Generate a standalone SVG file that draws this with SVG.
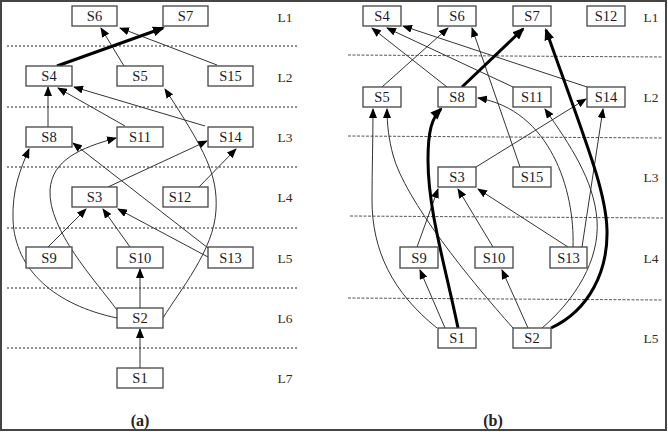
<svg xmlns="http://www.w3.org/2000/svg" width="668" height="432" viewBox="0 0 668 432">
<style>
.box{fill:#fff;stroke:#444;stroke-width:1.3}
.t{font-family:"Liberation Serif",serif;font-size:14.5px;fill:#1a1a2a;text-anchor:middle;dominant-baseline:central}
.l{font-family:"Liberation Serif",serif;font-size:13.5px;fill:#3a2a10;text-anchor:middle;dominant-baseline:central}
.cap{font-family:"Liberation Serif",serif;font-size:16px;font-weight:bold;fill:#222;text-anchor:middle;dominant-baseline:central}
.e{fill:none;stroke:#333;stroke-width:1;marker-end:url(#ah)}
.k{fill:none;stroke:#000;stroke-width:3;marker-end:url(#ahk)}
.da{stroke:#222;stroke-width:1;stroke-dasharray:2,2}
.db{stroke:#555;stroke-width:1;stroke-dasharray:3,1.5}
</style>
<defs>
<marker id="ah" markerUnits="userSpaceOnUse" markerWidth="10" markerHeight="8" refX="9" refY="4" orient="auto"><path d="M0,0 L10,4 L0,8 z" fill="#000"/></marker>
<marker id="ahk" markerUnits="userSpaceOnUse" markerWidth="12" markerHeight="10" refX="10" refY="5" orient="auto"><path d="M0,0 L12,5 L0,10 z" fill="#000"/></marker>
</defs>
<rect x="1" y="1" width="665" height="429" fill="#fff" stroke="#444" stroke-width="2"/>
<g id="layers">
<line class="da" x1="7" y1="46" x2="299" y2="46"/>
<line class="da" x1="7" y1="107" x2="299" y2="107"/>
<line class="da" x1="7" y1="167" x2="299" y2="167"/>
<line class="da" x1="7" y1="228" x2="299" y2="228"/>
<line class="da" x1="7" y1="288" x2="299" y2="288"/>
<line class="da" x1="7" y1="348" x2="299" y2="348"/>
<line class="db" x1="348" y1="55" x2="663" y2="57"/>
<line class="db" x1="348" y1="136" x2="663" y2="138"/>
<line class="db" x1="350" y1="216" x2="663" y2="218"/>
<line class="db" x1="348" y1="298" x2="663" y2="300"/>
<text class="l" x="285" y="17">L1</text>
<text class="l" x="285" y="77">L2</text>
<text class="l" x="285" y="137">L3</text>
<text class="l" x="285" y="197">L4</text>
<text class="l" x="285" y="258">L5</text>
<text class="l" x="285" y="318">L6</text>
<text class="l" x="285" y="378">L7</text>
<text class="l" x="651" y="17">L1</text>
<text class="l" x="651" y="97">L2</text>
<text class="l" x="651" y="177">L3</text>
<text class="l" x="651" y="258">L4</text>
<text class="l" x="651" y="338">L5</text>
<text class="cap" x="140" y="420">(a)</text>
<text class="cap" x="493" y="420">(b)</text>
</g>
<g id="connectors">
<line class="e" x1="124" y1="66" x2="101" y2="28"/>
<line class="e" x1="217" y1="65" x2="120" y2="28"/>
<line class="k" x1="57" y1="66" x2="163" y2="28"/>
<line class="e" x1="48" y1="127" x2="48" y2="87"/>
<line class="e" x1="125" y1="126" x2="58" y2="88"/>
<line class="e" x1="205" y1="126" x2="74" y2="87"/>
<line class="e" x1="108" y1="187" x2="207" y2="141"/>
<line class="e" x1="198" y1="188" x2="236" y2="149"/>
<line class="e" x1="208" y1="248" x2="73" y2="143"/>
<line class="e" x1="48" y1="247" x2="86" y2="209"/>
<line class="e" x1="130" y1="247" x2="103" y2="209"/>
<line class="e" x1="208" y1="257" x2="118" y2="209"/>
<line class="e" x1="140" y1="308" x2="140" y2="269"/>
<line class="e" x1="140" y1="368" x2="140" y2="329"/>
<path class="e" d="M163,318 C180,290 214,250 216,210 C218,175 205,150 165,89"/>
<path class="e" d="M117,310 C95,280 48,230 50,190 C52,160 80,148 116,138"/>
<path class="e" d="M117,318 C55,305 15,270 13,220 C12,190 20,170 29,149"/>
<line class="e" x1="447" y1="87" x2="372" y2="28"/>
<line class="e" x1="513" y1="87" x2="387" y2="28"/>
<line class="e" x1="587" y1="87" x2="403" y2="26"/>
<line class="e" x1="382" y1="87" x2="448" y2="28"/>
<line class="e" x1="520" y1="167" x2="472" y2="28"/>
<line class="k" x1="462" y1="87" x2="523" y2="29"/>
<line class="e" x1="582" y1="247" x2="603" y2="109"/>
<line class="e" x1="476" y1="167" x2="586" y2="99"/>
<line class="e" x1="568" y1="247" x2="478" y2="189"/>
<line class="e" x1="493" y1="247" x2="458" y2="189"/>
<line class="e" x1="417" y1="247" x2="438" y2="189"/>
<line class="e" x1="445" y1="328" x2="420" y2="270"/>
<line class="e" x1="528" y1="328" x2="502" y2="270"/>
<path class="e" d="M437,328 C392,292 372,250 372,200 C372,170 373,140 373,109"/>
<path class="e" d="M513,328 C470,280 405,200 393,155 C389,140 387,125 387,109"/>
<path class="k" d="M458,328 C445,265 428,210 428,160 C428,130 432,118 441,109"/>
<path class="k" d="M551,328 C590,310 608,270 607,230 C606,190 585,140 546,30"/>
<path class="e" d="M542,328 C575,300 600,260 597,220 C594,180 570,145 545,109"/>
<path class="e" d="M573,247 C575,190 550,110 478,98"/>
</g>
<g id="S6a"><rect class="box" x="72" y="6" width="45" height="20"/><text class="t" x="94.5" y="16">S6</text></g>
<g id="S7a"><rect class="box" x="163" y="6" width="45" height="20"/><text class="t" x="185.5" y="16">S7</text></g>
<g id="S4a"><rect class="box" x="26" y="66" width="46" height="20"/><text class="t" x="49" y="76">S4</text></g>
<g id="S5a"><rect class="box" x="117" y="66" width="46" height="20"/><text class="t" x="140" y="76">S5</text></g>
<g id="S15a"><rect class="box" x="208" y="66" width="45" height="20"/><text class="t" x="230.5" y="76">S15</text></g>
<g id="S8a"><rect class="box" x="26" y="127" width="46" height="20"/><text class="t" x="49" y="137">S8</text></g>
<g id="S11a"><rect class="box" x="117" y="127" width="46" height="20"/><text class="t" x="140" y="137">S11</text></g>
<g id="S14a"><rect class="box" x="208" y="127" width="45" height="20"/><text class="t" x="230.5" y="137">S14</text></g>
<g id="S3a"><rect class="box" x="72" y="187" width="45" height="20"/><text class="t" x="94.5" y="197">S3</text></g>
<g id="S12a"><rect class="box" x="163" y="187" width="45" height="20"/><text class="t" x="180" y="197">S12</text></g>
<g id="S9a"><rect class="box" x="26" y="247" width="46" height="21"/><text class="t" x="49" y="258">S9</text></g>
<g id="S10a"><rect class="box" x="117" y="247" width="46" height="21"/><text class="t" x="140" y="258">S10</text></g>
<g id="S13a"><rect class="box" x="208" y="247" width="45" height="21"/><text class="t" x="230.5" y="258">S13</text></g>
<g id="S2a"><rect class="box" x="117" y="308" width="46" height="20"/><text class="t" x="140" y="318">S2</text></g>
<g id="S1a"><rect class="box" x="117" y="368" width="46" height="20"/><text class="t" x="140" y="378">S1</text></g>
<g id="S4b"><rect class="box" x="363" y="6" width="38" height="20"/><text class="t" x="382" y="16">S4</text></g>
<g id="S6b"><rect class="box" x="438" y="6" width="38" height="20"/><text class="t" x="457" y="16">S6</text></g>
<g id="S7b"><rect class="box" x="513" y="6" width="38" height="20"/><text class="t" x="532" y="16">S7</text></g>
<g id="S12b"><rect class="box" x="587" y="6" width="38" height="20"/><text class="t" x="606" y="16">S12</text></g>
<g id="S5b"><rect class="box" x="363" y="87" width="38" height="20"/><text class="t" x="382" y="97">S5</text></g>
<g id="S8b"><rect class="box" x="438" y="87" width="38" height="20"/><text class="t" x="457" y="97">S8</text></g>
<g id="S11b"><rect class="box" x="513" y="87" width="38" height="20"/><text class="t" x="532" y="97">S11</text></g>
<g id="S14b"><rect class="box" x="587" y="87" width="38" height="20"/><text class="t" x="606" y="97">S14</text></g>
<g id="S3b"><rect class="box" x="438" y="167" width="38" height="20"/><text class="t" x="457" y="177">S3</text></g>
<g id="S15b"><rect class="box" x="513" y="167" width="38" height="20"/><text class="t" x="532" y="177">S15</text></g>
<g id="S9b"><rect class="box" x="400" y="247" width="38" height="21"/><text class="t" x="419" y="258">S9</text></g>
<g id="S10b"><rect class="box" x="475" y="247" width="38" height="21"/><text class="t" x="494" y="258">S10</text></g>
<g id="S13b"><rect class="box" x="550" y="247" width="37" height="21"/><text class="t" x="568.5" y="258">S13</text></g>
<g id="S1b"><rect class="box" x="438" y="328" width="38" height="20"/><text class="t" x="457" y="338">S1</text></g>
<g id="S2b"><rect class="box" x="513" y="328" width="38" height="20"/><text class="t" x="532" y="338">S2</text></g>
</svg>
